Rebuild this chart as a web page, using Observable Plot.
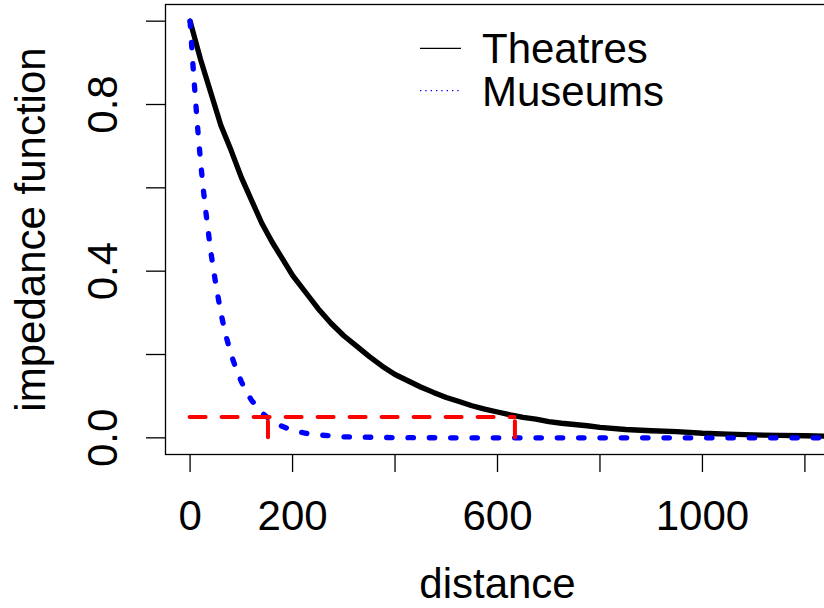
<!DOCTYPE html>
<html><head><meta charset="utf-8">
<script src="https://cdn.jsdelivr.net/npm/d3@7"></script>
<script src="https://cdn.jsdelivr.net/npm/@observablehq/plot@0.6"></script>
<style>
html,body{margin:0;padding:0;background:#fff;overflow:hidden;}
#chart{position:relative;width:824px;height:608px;overflow:hidden;}
#chart svg{overflow:hidden;display:block;}
</style></head><body><div id="chart"></div>
<script>
// ---- data ----
const theatresDistance = [0,20,40,60,80,100,120,140,160,180,200,225,250,275,300,325,350,375,400,425,450,475,500,525,550,575,600,625,650,675,700,725,750,775,800,850,900,950,1000,1050,1100,1150,1200,1250];
const theatresValue    = [1.00,0.91,0.83,0.75,0.69,0.625,0.57,0.515,0.47,0.43,0.39,0.35,0.31,0.275,0.245,0.22,0.195,0.172,0.152,0.137,0.122,0.109,0.097,0.087,0.077,0.069,0.062,0.055,0.049,0.045,0.039,0.035,0.032,0.029,0.025,0.020,0.017,0.015,0.011,0.009,0.007,0.006,0.005,0.004];
const museumsDistance = [0,5,10,15,20,25,30,40,50,60,70,80,90,100,110,120,130,140,150,160,175,200,225,250,300,400,500,700,900,1100,1250];
const museumsValue    = [1.00,0.905,0.82,0.74,0.67,0.605,0.55,0.45,0.37,0.30,0.245,0.20,0.165,0.135,0.11,0.09,0.075,0.06,0.05,0.04,0.03,0.018,0.011,0.007,0.0025,0.0005,0.0001,0,0,0,0];
const cutoffValue = 0.05;
const cutoffDistances = [152, 634];   // Museums, Theatres
const seriesNames = ["Theatres", "Museums"];
const xTicks = [0,200,400,600,800,1000,1200];
const xTickLabels = ["0","200","","600","","1000",""];
const yTicks = [0,0.2,0.4,0.6,0.8,1.0];
const yTickLabels = ["0.0","","0.4","","0.8",""];
const xTitle = "distance";
const yTitle = "impedance function";

const theatres = theatresDistance.map((d,i) => ({d, v: theatresValue[i]}));
const museums = museumsDistance.map((d,i) => ({d, v: museumsValue[i]}));

const FONT = "'Liberation Sans', Arial, Helvetica, sans-serif";
const FS = 42;

const plot = Plot.plot({
  width: 824, height: 608,
  marginLeft: 165, marginRight: -5, marginTop: 4, marginBottom: 154,
  style: {fontFamily: FONT, fontSize: FS + "px", background: "#fff", color: "#000"},
  x: {domain: [-48, 1248]},
  y: {domain: [-0.04, 1.04]},
  marks: [
    Plot.frame({stroke: "#000", strokeWidth: 1.3}),
    Plot.axisX({ticks: xTicks, tickSize: 18, tickPadding: 28, fontSize: FS, strokeWidth: 1.3,
      tickFormat: d => xTickLabels[xTicks.indexOf(d)], label: null}),
    Plot.axisY({ticks: yTicks, tickSize: 19, tickPadding: 30, fontSize: FS, strokeWidth: 1.3, tickRotate: -90,
      tickFormat: d => yTickLabels[yTicks.indexOf(d)], label: null}),
    Plot.text([xTitle], {frameAnchor: "bottom", dy: 143, lineAnchor: "bottom", textAnchor: "middle", fontSize: FS}),
    Plot.text([yTitle], {frameAnchor: "left", dx: -121, rotate: -90, lineAnchor: "bottom", textAnchor: "middle", fontSize: FS}),
    Plot.line(theatres, {x: "d", y: "v", stroke: "#000", strokeWidth: 5.33, strokeLinecap: "round", strokeLinejoin: "round"}),
    Plot.line(museums, {x: "d", y: "v", stroke: "#0000ff", strokeWidth: 5.33, strokeDasharray: "5.33,16", strokeLinecap: "round", strokeLinejoin: "round"}),
    Plot.ruleY([cutoffValue], {x1: 0, x2: cutoffDistances[1], stroke: "#ff0000", strokeWidth: 4, strokeDasharray: "16,16", strokeLinecap: "round"}),
    Plot.ruleX(cutoffDistances, {y1: 0, y2: cutoffValue, stroke: "#ff0000", strokeWidth: 4, strokeDasharray: "16,16", strokeLinecap: "round"})
  ]
});
document.getElementById("chart").appendChild(plot);

// legend (R style, no box)
const svg = d3.select(plot);
const lg = svg.append("g").attr("font-family", FONT).attr("font-size", FS).attr("text-anchor", "start");
const legendStyles = [
  {stroke: "#000", dash: null, y: 48.3},
  {stroke: "#0000ff", dash: "1.33,4", y: 90.7}
];
seriesNames.forEach((name, i) => {
  const s = legendStyles[i];
  lg.append("line").attr("x1", 420).attr("x2", 461).attr("y1", s.y).attr("y2", s.y)
    .attr("stroke", s.stroke).attr("stroke-width", 1.33).attr("stroke-dasharray", s.dash);
  lg.append("text").attr("x", 482).attr("y", s.y + 15).attr("fill", "#000").attr("text-anchor", "start").text(name);
});
</script></body></html>
